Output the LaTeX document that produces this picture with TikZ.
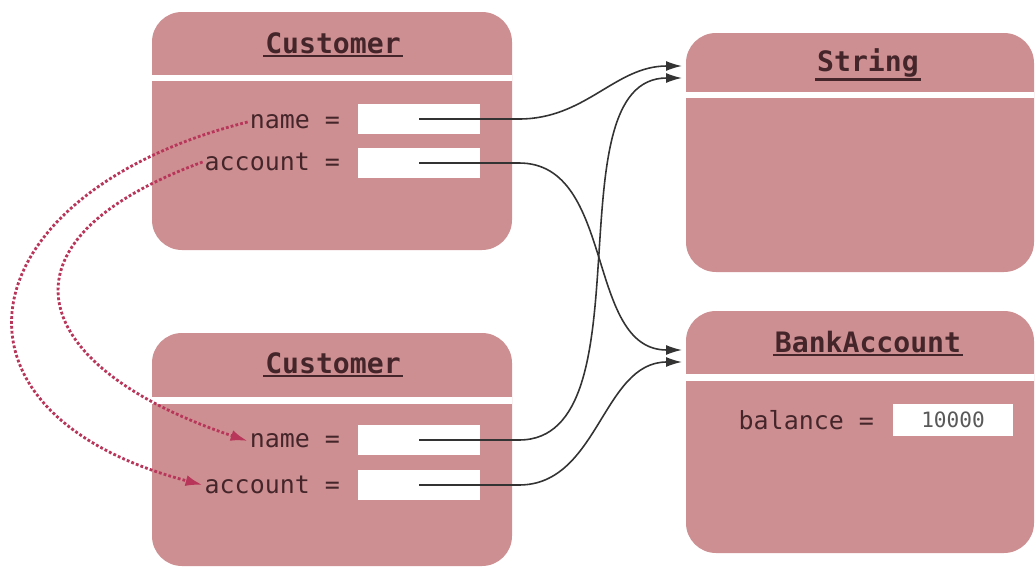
\documentclass[tikz,border=0pt]{standalone}
\usepackage{fontspec}
\setmonofont{DejaVu Sans Mono}
\usepackage{xcolor}
\usepackage{tikz}
\usetikzlibrary{arrows.meta}

\definecolor{objfill}{HTML}{CE8F92}
\definecolor{objtext}{HTML}{44262A}
\definecolor{dotred}{HTML}{B8365A}
\definecolor{refline}{HTML}{333333}

\begin{document}
\begin{tikzpicture}[x=0.02cm, y=-0.02cm,
    obj/.style={fill=objfill, rounded corners=0.6cm},
    sep/.style={white, line width=0.14cm},
    title/.style={font=\ttfamily\bfseries\fontsize{16}{18}\selectfont, text=objtext, inner sep=1pt},
    uline/.style={objtext, line width=1.3pt},
    lbl/.style={font=\ttfamily\fontsize{14.2}{16}\selectfont, text=objtext, inner sep=1pt, anchor=east},
    field/.style={fill=white, minimum width=2.44cm, minimum height=0.6cm, inner sep=0pt},
    ref/.style={refline, line width=0.9pt, -{Latex[length=3.2mm,width=2mm]}},
    alias/.style={dotred, line width=1.6pt, dash pattern=on 1.6pt off 1.2pt,
      -{Latex[length=3.4mm,width=2.2mm]}}]
    \useasboundingbox (0,0) rectangle (1036,568);

    % Objects
    \fill[obj] (152,12) rectangle (512,250);
    \fill[obj] (152,333) rectangle (512,566);
    \fill[obj] (686,33) rectangle (1034,272);
    \fill[obj] (686,311) rectangle (1034,553);

    % Header separators
    \draw[sep] (152,78) -- (512,78);
    \draw[sep] (152,400) -- (512,400);
    \draw[sep] (686,95) -- (1034,95);
    \draw[sep] (686,377) -- (1034,377);

    % Class names
    \node[title] (custA) at (333,43) {Customer};
    \node[title] (custB) at (333,363) {Customer};
    \node[title] (str) at (868,63) {String};
    \node[title] (bank) at (868,342) {BankAccount};
    \foreach \t in {custA,custB,str,bank}
        \draw[uline] (\t.south west) -- (\t.south east);

    % Instance fields
    \node[lbl] (nameA) at (342,122) {name =};
    \node[lbl] (acctA) at (342,162) {account =};
    \node[lbl] (nameB) at (342,441) {name =};
    \node[lbl] (acctB) at (342,485) {account =};
    \node[lbl] (bal) at (876,420) {balance =};

    \node[field] (fnA) at (419,119) {};
    \node[field] (faA) at (419,163) {};
    \node[field] (fnB) at (419,440) {};
    \node[field] (faB) at (419,485) {};
    \node[field, minimum width=2.4cm, minimum height=0.64cm,
        font=\ttfamily\fontsize{12}{14}\selectfont, text=black!65] (fbal) at (953,420) {10000};

    % Arrow targets
    \coordinate (strA) at (682,66);
    \coordinate (strB) at (682,78);
    \coordinate (bankA) at (682,350);
    \coordinate (bankB) at (682,362);

    % References
    \draw[ref] (fnA.center) -- ++(100,0) to[out=0,in=180] (strA);
    \draw[ref] (faA.center) -- ++(100,0) to[out=0,in=180] (bankA);
    \draw[ref] (fnB.center) -- ++(100,0) to[out=0,in=180, looseness=0.85] (strB);
    \draw[ref] (faB.center) -- ++(100,0) to[out=0,in=180] (bankB);

    % Copied variables
    \draw[alias] (nameA.west) .. controls (-31,192) and (-78,411) .. (acctB.west);
    \draw[alias] (acctA.west) .. controls (-16,242) and (29,368) .. (nameB.west);
\end{tikzpicture}
\end{document}
